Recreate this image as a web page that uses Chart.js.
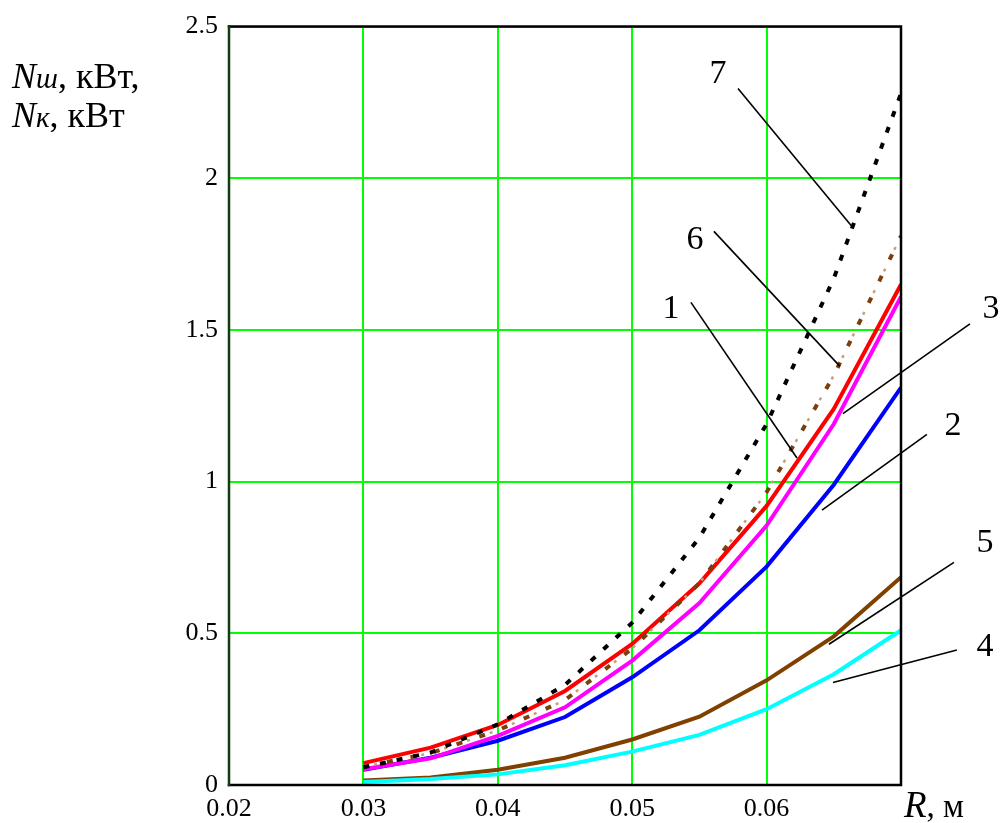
<!DOCTYPE html>
<html>
<head>
<meta charset="utf-8">
<script src="https://cdn.jsdelivr.net/npm/chart.js@4/dist/chart.umd.min.js"></script>
<style>
  html, body { margin: 0; padding: 0; background: #fff; }
  #wrap { width: 1000px; height: 823px; }
</style>
</head>
<body>
<div id="wrap"><canvas id="c" width="1000" height="823"></canvas></div>
<script>
// Radius R, m
const R = [0.03, 0.035, 0.04, 0.045, 0.05, 0.055, 0.06, 0.065, 0.07];

// Power curves, kW
const curve1 = [0.072, 0.123, 0.198, 0.31, 0.465, 0.665, 0.92, 1.24, 1.65];
const curve2 = [0.05, 0.09, 0.146, 0.224, 0.355, 0.51, 0.72, 0.99, 1.31];
const curve3 = [0.052, 0.088, 0.162, 0.256, 0.41, 0.60, 0.855, 1.19, 1.61];
const curve4 = [0.01, 0.02, 0.035, 0.065, 0.11, 0.165, 0.25, 0.365, 0.51];
const curve5 = [0.015, 0.025, 0.05, 0.09, 0.15, 0.225, 0.345, 0.49, 0.685];
const curve6 = [0.06, 0.105, 0.18, 0.28, 0.45, 0.665, 0.965, 1.35, 1.81];
const curve7 = [0.058, 0.107, 0.20, 0.33, 0.535, 0.815, 1.19, 1.67, 2.28];

// Tick labels
const xTickLabels = ['0.02', '0.03', '0.04', '0.05', '0.06', ''];
const yTickLabels = ['0', '0.5', '1', '1.5', '2', '2.5'];

// Curve number callouts: label text, label position, leader from / to (data units)
const calloutNames = ['7', '6', '1', '3', '2', '5', '4'];
const calloutLabelAt = [[0.05638, 2.344], [0.05467, 1.796], [0.05289, 1.568], [0.07669, 1.568], [0.07387, 1.182], [0.07625, 0.796], [0.07625, 0.455]];
const calloutFrom = [[0.05787, 2.296], [0.05608, 1.825], [0.05437, 1.591], [0.07513, 1.520], [0.07193, 1.156], [0.07394, 0.734], [0.07416, 0.445]];
const calloutTo = [[0.06635, 1.841], [0.06546, 1.380], [0.06226, 1.078], [0.06568, 1.224], [0.06412, 0.906], [0.06464, 0.464], [0.06494, 0.338]];

const SERIF = '"Liberation Serif", "Times New Roman", serif';

function pts(vals) { return R.map((r, i) => ({ x: r, y: vals[i] })); }

const framePlugin = {
  id: 'frame',
  afterDatasetsDraw(chart) {
    const { ctx, chartArea: a } = chart;
    ctx.save();
    ctx.lineCap = 'square';
    ctx.lineWidth = 2.5;
    ctx.strokeStyle = '#000';
    ctx.beginPath();
    ctx.moveTo(a.left, a.top); ctx.lineTo(a.right, a.top);
    ctx.lineTo(a.right, a.bottom); ctx.lineTo(a.left, a.bottom);
    ctx.stroke();
    ctx.strokeStyle = '#0f3d0f';
    ctx.beginPath();
    ctx.moveTo(a.left, a.top); ctx.lineTo(a.left, a.bottom);
    ctx.stroke();
    ctx.restore();
  }
};

const calloutPlugin = {
  id: 'callouts',
  afterDraw(chart) {
    const { ctx } = chart;
    const xs = chart.scales.x, ys = chart.scales.y;
    ctx.save();
    ctx.strokeStyle = '#000';
    ctx.lineWidth = 1.6;
    ctx.fillStyle = '#000';
    ctx.font = '34px ' + SERIF;
    ctx.textAlign = 'center';
    ctx.textBaseline = 'middle';
    calloutNames.forEach((name, i) => {
      ctx.beginPath();
      ctx.moveTo(xs.getPixelForValue(calloutFrom[i][0]), ys.getPixelForValue(calloutFrom[i][1]));
      ctx.lineTo(xs.getPixelForValue(calloutTo[i][0]), ys.getPixelForValue(calloutTo[i][1]));
      ctx.stroke();
      ctx.fillText(name, xs.getPixelForValue(calloutLabelAt[i][0]), ys.getPixelForValue(calloutLabelAt[i][1]));
    });
    ctx.restore();
  }
};

// Axis captions drawn as mixed italic / upright runs
function runs(ctx, x, y, parts) {
  parts.forEach(p => {
    ctx.font = p.f;
    ctx.fillText(p.t, x, y + (p.dy || 0));
    x += ctx.measureText(p.t).width;
  });
}

const captionPlugin = {
  id: 'captions',
  afterDraw(chart) {
    const { ctx } = chart;
    ctx.save();
    ctx.fillStyle = '#000';
    ctx.textAlign = 'left';
    ctx.textBaseline = 'alphabetic';
    const it = 'italic 36px ' + SERIF, sub = 'italic 29px ' + SERIF, up = '36px ' + SERIF;
    runs(ctx, 12, 88, [{ t: 'N', f: it }, { t: 'ш', f: sub }, { t: ', кВт,', f: up }]);
    runs(ctx, 12, 127, [{ t: 'N', f: it }, { t: 'к', f: sub }, { t: ', кВт', f: up }]);
    runs(ctx, 904, 817, [{ t: 'R', f: 'italic 37px ' + SERIF }, { t: ', м', f: '33px ' + SERIF }]);
    ctx.restore();
  }
};

const lineStyle = (color, width, dash) => ({
  borderColor: color, backgroundColor: color, borderWidth: width,
  borderDash: dash || [], pointRadius: 0, pointHoverRadius: 0, tension: 0, fill: false
});

new Chart(document.getElementById('c'), {
  type: 'line',
  data: {
    datasets: [
      Object.assign({ label: '7', data: pts(curve7), order: 1 }, lineStyle('#000000', 4, [6, 11])),
      Object.assign({ label: '6', data: pts(curve6), order: 2 }, lineStyle('#7a3f0c', 4, [6, 18])),
      Object.assign({ label: '6b', data: pts(curve6), order: 3, borderDashOffset: -11 }, lineStyle('#c4a07a', 2.5, [3, 21])),
      Object.assign({ label: '4', data: pts(curve4), order: 4 }, lineStyle('#00ffff', 4)),
      Object.assign({ label: '5', data: pts(curve5), order: 5 }, lineStyle('#804000', 4)),
      Object.assign({ label: '3', data: pts(curve3), order: 6 }, lineStyle('#ff00ff', 4)),
      Object.assign({ label: '2', data: pts(curve2), order: 7 }, lineStyle('#0000ff', 4)),
      Object.assign({ label: '1', data: pts(curve1), order: 8 }, lineStyle('#ff0000', 4))
    ]
  },
  options: {
    responsive: false,
    animation: false,
    devicePixelRatio: 1,
    layout: { padding: { left: 0, top: 15, right: 99, bottom: 0 } },
    plugins: { legend: { display: false }, tooltip: { enabled: false } },
    scales: {
      x: {
        type: 'linear', min: 0.02, max: 0.07,
        afterFit(s) { s.height = 38; },
        grid: { color: '#00ff00', lineWidth: 2, drawTicks: false },
        border: { display: false },
        ticks: {
          stepSize: 0.01, padding: 9, color: '#000', maxRotation: 0,
          font: { family: SERIF, size: 26 },
          callback: (v, i) => xTickLabels[i]
        }
      },
      y: {
        min: 0, max: 2.5,
        afterFit(s) { s.width = 229; },
        grid: { color: '#00ff00', lineWidth: 2, drawTicks: false },
        border: { display: false },
        ticks: {
          stepSize: 0.5, padding: 11, color: '#000',
          font: { family: SERIF, size: 26 },
          callback: (v, i) => yTickLabels[i]
        }
      }
    }
  },
  plugins: [framePlugin, calloutPlugin, captionPlugin]
});
</script>
</body>
</html>
